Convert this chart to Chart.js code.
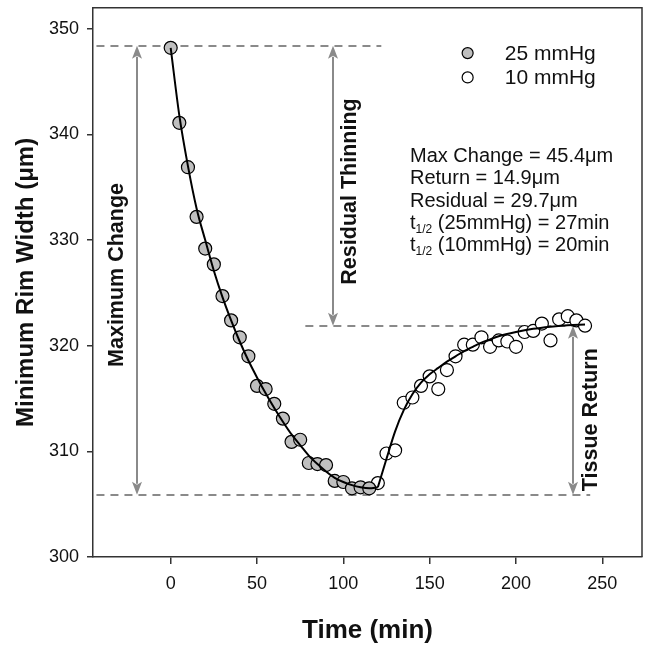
<!DOCTYPE html>
<html><head><meta charset="utf-8">
<script src="https://cdn.jsdelivr.net/npm/chart.js@4/dist/chart.umd.min.js"></script>
<style>html,body{margin:0;padding:0;background:#fff}#wrap{width:650px;height:647px}</style>
</head><body><div id="wrap"><canvas id="c" width="650" height="647"></canvas></div>
<script>
const FONT = '"Liberation Sans", Arial, Helvetica, sans-serif';

// ---- data ----
const time25  = [0,5,10,15,20,25,30,35,40,45,50,55,60,65,70,75,80,85,90,95,100,105,110,115];
const width25 = [348.2,341.1,336.9,332.2,329.2,327.7,324.7,322.4,320.8,319.0,316.2,315.9,314.5,313.1,310.9,311.1,308.9,308.8,308.7,307.2,307.1,306.5,306.6,306.5];
const time10  = [120,125,130,135,140,145,150,155,160,165,170,175,180,185,190,195,200,205,210,215,220,225,230,235,240];
const width10 = [307.0,309.8,310.1,314.6,315.1,316.2,317.1,315.9,317.7,319.0,320.1,320.1,320.8,319.9,320.5,320.4,319.9,321.3,321.4,322.1,320.5,322.5,322.8,322.4,321.9];
const fitDecayTime  = [0,5,10,15,20,25,30,35,40,45,50,55,60,65,70,75,80,85,90,95,100,105,110,115,120];
const fitDecayWidth = [348.2,341.8,337.0,333.0,330.0,327.1,324.6,322.4,320.4,318.6,317.0,315.5,314.1,312.8,311.6,310.6,309.6,308.8,308.1,307.5,307.1,306.8,306.6,306.5,306.6];
const fitReturnTime  = [120,125,130,135,140,145,150,155,160,165,170,175,180,185,190,200,210,220,230,240];
const fitReturnWidth = [306.6,309.3,311.9,313.9,315.4,316.5,317.3,317.9,318.5,319.0,319.5,319.9,320.3,320.6,320.9,321.3,321.6,321.8,321.95,322.0];
const xTicks = [0,50,100,150,200,250];
const yTicks = [300,310,320,330,340,350];
const seriesLabels = ['25 mmHg','10 mmHg'];
const levelStart = 348.4, levelMin = 305.9, levelReturn = 321.9;
const statLines = [
  {pre:'Max Change = 45.4\u03BCm'},
  {pre:'Return = 14.9\u03BCm'},
  {pre:'Residual = 29.7\u03BCm'},
  {pre:'t', sub:'1/2', post:' (25mmHg) = 27min'},
  {pre:'t', sub:'1/2', post:' (10mmHg) = 20min'}
];

const pts = (xs, ys) => xs.map((x,i)=>({x:x, y:ys[i]}));

const GRAY = '#8a8a8a';
const annot = {
  id:'annot',
  beforeDatasetsDraw(chart){
    const {ctx, scales:{x,y}} = chart;
    ctx.save();
    ctx.strokeStyle = GRAY; ctx.lineWidth = 2; ctx.setLineDash([8,6]);
    const hl = (a,b,v)=>{const py = Math.round(y.getPixelForValue(v)); ctx.beginPath(); ctx.moveTo(x.getPixelForValue(a), py); ctx.lineTo(x.getPixelForValue(b), py); ctx.stroke();};
    hl(-43,122,levelStart); hl(-43,243,levelMin); hl(78,243,levelReturn);
    ctx.setLineDash([]);
    const arrow = (t, v1, v2)=>{
      const px = Math.round(x.getPixelForValue(t));
      const y1 = y.getPixelForValue(v1), y2 = y.getPixelForValue(v2);
      const L = 13, H = 5;
      ctx.strokeStyle = GRAY; ctx.fillStyle = GRAY; ctx.lineWidth = 2;
      ctx.beginPath(); ctx.moveTo(px, y1 + L - 2); ctx.lineTo(px, y2 - L + 2); ctx.stroke();
      ctx.beginPath(); ctx.moveTo(px, y1); ctx.lineTo(px-H, y1+L); ctx.lineTo(px, y1+L-3); ctx.lineTo(px+H, y1+L); ctx.closePath(); ctx.fill();
      ctx.beginPath(); ctx.moveTo(px, y2); ctx.lineTo(px-H, y2-L); ctx.lineTo(px, y2-L+3); ctx.lineTo(px+H, y2-L); ctx.closePath(); ctx.fill();
    };
    arrow(-19.7, levelStart, levelMin);
    arrow(94, levelStart, levelReturn);
    arrow(233, levelReturn, levelMin);
    const vlabel = (t, v, s)=>{
      ctx.save();
      ctx.translate(x.getPixelForValue(t), y.getPixelForValue(v));
      ctx.rotate(-Math.PI/2);
      ctx.font = 'bold 21.5px ' + FONT; ctx.fillStyle = '#111';
      ctx.textAlign = 'center'; ctx.textBaseline = 'middle';
      ctx.fillText(s, 0, 0);
      ctx.restore();
    };
    vlabel(-31, 326.7, 'Maximum Change');
    vlabel(103.8, 334.6, 'Residual Thinning');
    vlabel(243.6, 313.0, 'Tissue Return');
    ctx.restore();
  },
  afterDraw(chart){
    const {ctx, chartArea:a, scales:{x,y}} = chart;
    ctx.save();
    ctx.strokeStyle = '#333'; ctx.lineWidth = 1.5;
    ctx.beginPath(); ctx.moveTo(a.left, a.top); ctx.lineTo(a.right, a.top); ctx.lineTo(a.right, a.bottom); ctx.stroke();
    // legend
    const fills = ['#bfbfbf', '#ffffff'];
    const legV = [347.7, 345.4];
    seriesLabels.forEach((lab,i)=>{
      const py = y.getPixelForValue(legV[i]);
      ctx.beginPath(); ctx.arc(x.getPixelForValue(172), py, 5.5, 0, Math.PI*2);
      ctx.fillStyle = fills[i]; ctx.fill(); ctx.lineWidth = 1.2; ctx.strokeStyle = '#000'; ctx.stroke();
      ctx.fillStyle = '#111'; ctx.font = '21px ' + FONT; ctx.textAlign = 'left'; ctx.textBaseline = 'middle';
      ctx.fillText(lab, x.getPixelForValue(193.5), py + 1);
    });
    // stats text
    const px0 = x.getPixelForValue(138.6), py0 = y.getPixelForValue(337.9);
    statLines.forEach((ln,i)=>{
      const py = py0 + i*22.3;
      ctx.fillStyle = '#111'; ctx.textAlign = 'left'; ctx.textBaseline = 'middle';
      ctx.font = '20px ' + FONT;
      let cx = px0;
      ctx.fillText(ln.pre, cx, py); cx += ctx.measureText(ln.pre).width;
      if (ln.sub){
        ctx.font = '12px ' + FONT; ctx.fillText(ln.sub, cx, py + 6); cx += ctx.measureText(ln.sub).width;
        ctx.font = '20px ' + FONT; ctx.fillText(ln.post, cx, py);
      }
    });
    ctx.restore();
  }
};

new Chart(document.getElementById('c'), {
  type: 'scatter',
  data: { datasets: [
    {type:'line', label:'fit decay', data: pts(fitDecayTime, fitDecayWidth), borderColor:'#000', borderWidth:2, pointRadius:0, fill:false, cubicInterpolationMode:'monotone', order:0},
    {type:'line', label:'fit return', data: pts(fitReturnTime, fitReturnWidth), borderColor:'#000', borderWidth:2, pointRadius:0, fill:false, cubicInterpolationMode:'monotone', order:0},
    {label: seriesLabels[0], data: pts(time25, width25), pointRadius:6.5, pointBackgroundColor:'#bfbfbf', pointBorderColor:'#000', pointBorderWidth:1.2, order:1},
    {label: seriesLabels[1], data: pts(time10, width10), pointRadius:6.5, pointBackgroundColor:'#ffffff', pointBorderColor:'#000', pointBorderWidth:1.2, order:1}
  ]},
  options: {
    responsive:false, devicePixelRatio:1, animation:false,
    layout:{padding:{top:4, right:8, left:0, bottom:0}},
    plugins:{legend:{display:false}, tooltip:{enabled:false}},
    scales:{
      x:{type:'linear', min:-45, max:273,
        afterBuildTicks:(ax)=>{ax.ticks = xTicks.map(v=>({value:v}));},
        afterFit:(ax)=>{ax.height = 90; ax.paddingLeft = 0; ax.paddingRight = 0;},
        grid:{drawOnChartArea:false, drawTicks:true, tickLength:7, color:'#333', lineWidth:1.5},
        border:{display:true, color:'#333', width:1.5},
        ticks:{font:{family:FONT, size:18}, color:'#111', padding:9, maxRotation:0},
        title:{display:true, text:'Time (min)', font:{family:FONT, size:26, weight:'bold'}, color:'#111', padding:{top:0,bottom:1}}
      },
      y:{type:'linear', min:300, max:352,
        afterBuildTicks:(ax)=>{ax.ticks = yTicks.map(v=>({value:v}));},
        afterFit:(ax)=>{ax.width = 93; ax.paddingTop = 0; ax.paddingBottom = 0;},
        grid:{drawOnChartArea:false, drawTicks:true, tickLength:6, color:'#333', lineWidth:1.5},
        border:{display:true, color:'#333', width:1.5},
        ticks:{font:{family:FONT, size:18}, color:'#111', padding:8},
        title:{display:true, text:'Minimum Rim Width (\u03BCm)', font:{family:FONT, size:24, weight:'bold'}, color:'#111', padding:{top:12,bottom:0}}
      }
    }
  },
  plugins:[annot]
});
</script></body></html>
